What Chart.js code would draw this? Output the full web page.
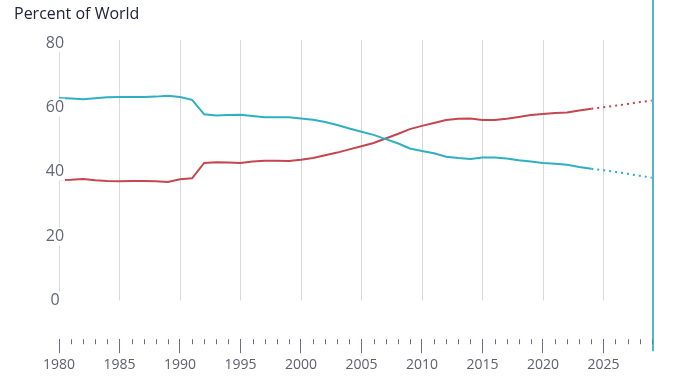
<!DOCTYPE html>
<html>
<head>
<meta charset="utf-8">
<script src="https://cdn.jsdelivr.net/npm/chart.js@4/dist/chart.umd.min.js"></script>
<style>
  html, body { margin: 0; padding: 0; background: #fff; }
  #wrap { width: 674px; height: 384px; position: relative; }
</style>
</head>
<body>
<div id="wrap"><canvas id="myChart"></canvas></div>
<script>
// share of world, percent
const years = [
  1980, 1981, 1982, 1983, 1984, 1985, 1986, 1987, 1988, 1989,
  1990, 1991, 1992, 1993, 1994, 1995, 1996, 1997, 1998, 1999,
  2000, 2001, 2002, 2003, 2004, 2005, 2006, 2007, 2008, 2009,
  2010, 2011, 2012, 2013, 2014, 2015, 2016, 2017, 2018, 2019,
  2020, 2021, 2022, 2023, 2024,
];
const advanced = [
  63.0, 62.8, 62.6, 62.9, 63.2, 63.3, 63.3, 63.3, 63.4, 63.7,
  63.3, 62.4, 57.9, 57.5, 57.7, 57.8, 57.4, 57.0, 57.0, 57.0,
  56.6, 56.2, 55.5, 54.6, 53.5, 52.5, 51.5, 50.2, 48.9, 47.3,
  46.5, 45.8, 44.7, 44.3, 44.0, 44.5, 44.5, 44.2, 43.6, 43.2,
  42.8, 42.5, 42.2, 41.5, 41.0,
];
const emerging = [
  37.5, 37.6, 37.8, 37.4, 37.2, 37.1, 37.2, 37.2, 37.1, 36.9,
  37.7, 38.0, 42.8, 43.0, 42.9, 42.8, 43.2, 43.5, 43.5, 43.4,
  43.8, 44.3, 45.2, 46.0, 47.0, 48.0, 49.0, 50.4, 51.8, 53.3,
  54.3, 55.2, 56.1, 56.5, 56.6, 56.1, 56.1, 56.5, 57.1, 57.7,
  58.0, 58.3, 58.5, 59.1, 59.6,
];

// projections
const projYears = [2024, 2025, 2026, 2027, 2028, 2029];
const advancedProj = [41.0, 40.5, 40.0, 39.4, 38.8, 38.2];
const emergingProj = [59.6, 60.1, 60.6, 61.1, 61.7, 62.2];

const yTicks = [0, 20, 40, 60, 80];
const xTicks = [1980, 1985, 1990, 1995, 2000, 2005, 2010, 2015, 2020, 2025];

const TEAL = "#2eb0c2";
const RED = "#c4464f";
const FONT = "'Open Sans', sans-serif";

function toPoints(xs, ys) {
  return xs.map((x, i) => ({ x: x, y: ys[i] }));
}

// vertical grid lines from top down to value 0, plus minor ticks, title, right marker
const extras = {
  id: "extras",
  beforeDatasetsDraw(chart) {
    const { ctx, chartArea, scales } = chart;
    const x = scales.x, y = scales.y;
    ctx.save();
    ctx.strokeStyle = "#d9d9d9";
    ctx.lineWidth = 1;
    xTicks.forEach((yr) => {
      const px = Math.round(x.getPixelForValue(yr)) + 0.5;
      ctx.beginPath();
      ctx.moveTo(px, chartArea.top);
      ctx.lineTo(px, y.getPixelForValue(0));
      ctx.stroke();
    });
    ctx.restore();
  },
  afterDraw(chart) {
    const { ctx, chartArea, scales } = chart;
    const x = scales.x, y = scales.y;
    ctx.save();
    // minor ticks
    ctx.strokeStyle = "#6c6c92";
    ctx.lineWidth = 1;
    for (let yr = 1981; yr <= 2029; yr++) {
      if (yr % 5 === 0) continue;
      const px = Math.round(x.getPixelForValue(yr)) + 0.5;
      ctx.beginPath();
      ctx.moveTo(px, chartArea.bottom);
      ctx.lineTo(px, chartArea.bottom + 5);
      ctx.stroke();
    }
    // y labels with white backdrop
    ctx.font = "16px " + FONT;
    ctx.textAlign = "center";
    ctx.textBaseline = "middle";
    yTicks.forEach((v) => {
      const py = y.getPixelForValue(v);
      const cx = chartArea.left - 4;
      ctx.fillStyle = "#fff";
      ctx.fillRect(cx - 10, py - 9, 20, 18);
      ctx.fillStyle = "#62657c";
      ctx.fillText(String(v), cx, py);
    });
    // title
    ctx.textAlign = "left";
    ctx.fillStyle = "#22223a";
    ctx.fillText("Percent of World", 14, 14);
    // right marker line
    ctx.strokeStyle = "#1f9cac";
    ctx.lineWidth = 1.5;
    ctx.beginPath();
    ctx.moveTo(chartArea.right, 0);
    ctx.lineTo(chartArea.right, chartArea.bottom + 12);
    ctx.stroke();
    ctx.restore();
  },
};

const ctx = document.getElementById("myChart").getContext("2d");
const myChart = new Chart(ctx, {
  type: "line",
  data: {
    datasets: [
      { data: toPoints(years, advanced), borderColor: TEAL, borderWidth: 2 },
      { data: toPoints(years, emerging), borderColor: RED, borderWidth: 2 },
      { data: toPoints(projYears, advancedProj), borderColor: TEAL, borderWidth: 2, borderDash: [2, 4] },
      { data: toPoints(projYears, emergingProj), borderColor: RED, borderWidth: 2, borderDash: [2, 4] },
    ],
  },
  options: {
    responsive: true,
    maintainAspectRatio: false,
    animation: false,
    layout: { padding: { left: 59, right: 21, top: 40, bottom: 8 } },
    elements: { point: { radius: 0 }, line: { tension: 0 } },
    plugins: { legend: { display: false }, tooltip: { enabled: false } },
    scales: {
      x: {
        type: "linear",
        min: 1980,
        max: 2029.1,
        border: { display: false },
        grid: { drawOnChartArea: false, drawTicks: true, tickLength: 14, color: "#6c6c92" },
        afterBuildTicks: (scale) => {
          scale.ticks = xTicks.map((v) => ({ value: v }));
        },
        ticks: {
          autoSkip: false,
          padding: 3,
          color: "#5f5f6e",
          font: { family: FONT, size: 14 },
          maxRotation: 0,
          callback: (v) => String(v),
        },
      },
      y: {
        display: false,
        min: -12,
        max: 81,
      },
    },
  },
  plugins: [extras],
});
</script>
</body>
</html>
